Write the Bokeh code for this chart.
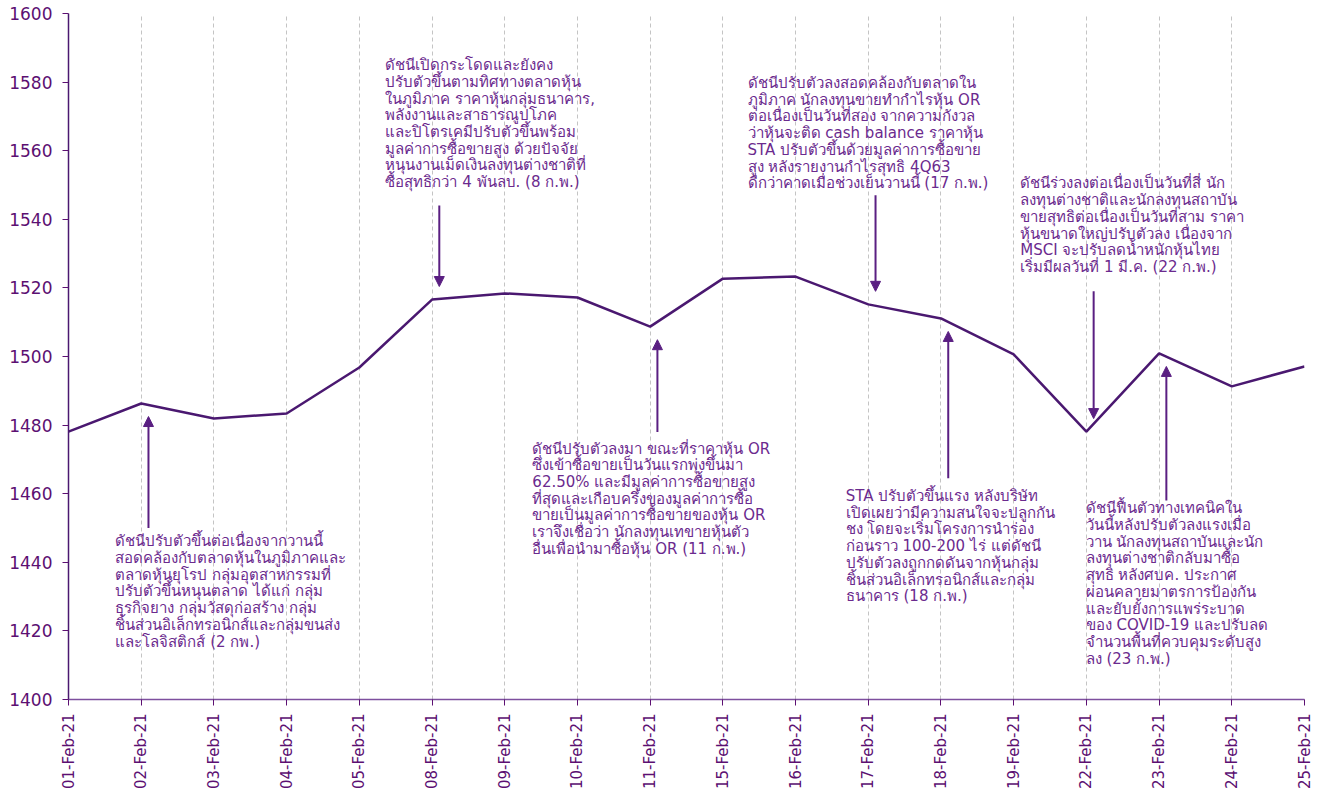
import math
from bokeh.plotting import figure
from bokeh.models import Range1d, FixedTicker, Arrow, NormalHead
from bokeh.embed import file_html
from bokeh.resources import INLINE
from bokeh.core.properties import value

# SET index closing levels, February 2021
dates = ["01-Feb-21", "02-Feb-21", "03-Feb-21", "04-Feb-21", "05-Feb-21",
         "08-Feb-21", "09-Feb-21", "10-Feb-21", "11-Feb-21", "15-Feb-21",
         "16-Feb-21", "17-Feb-21", "18-Feb-21", "19-Feb-21", "22-Feb-21",
         "23-Feb-21", "24-Feb-21", "25-Feb-21"]
index_values = [1478.1, 1486.3, 1481.9, 1483.4, 1496.8,
                1516.6, 1518.4, 1517.2, 1508.7, 1522.7,
                1523.3, 1515.2, 1511.1, 1500.6, 1478.1,
                1500.9, 1491.3, 1497.1]
y_ticks = [1400, 1420, 1440, 1460, 1480, 1500, 1520, 1540, 1560, 1580, 1600]

# Daily commentary attached to selected sessions
note_dates = ["02-Feb-21", "08-Feb-21", "11-Feb-21", "17-Feb-21",
              "18-Feb-21", "22-Feb-21", "23-Feb-21"]
note_texts = [
    "ดัชนีปรับตัวขึ้นต่อเนื่องจากวานนี้\nสอดคล้องกับตลาดหุ้นในภูมิภาคและ\nตลาดหุ้นยุโรป  กลุ่มอุตสาหกรรมที่\nปรับตัวขึ้นหนุนตลาด  ได้แก่ กลุ่ม\nธุรกิจยาง กลุ่มวัสดุก่อสร้าง กลุ่ม\nชิ้นส่วนอิเล็กทรอนิกส์และกลุ่มขนส่ง\nและโลจิสติกส์ (2 กพ.)",
    "ดัชนีเปิดกระโดดและยังคง\nปรับตัวขึ้นตามทิศทางตลาดหุ้น\nในภูมิภาค ราคาหุ้นกลุ่มธนาคาร,\nพลังงานและสาธารณูปโภค\nและปิโตรเคมีปรับตัวขึ้นพร้อม\nมูลค่าการซื้อขายสูง ด้วยปัจจัย\nหนุนงานเม็ดเงินลงทุนต่างชาติที่\nซื้อสุทธิกว่า 4 พันลบ. (8 ก.พ.)",
    "ดัชนีปรับตัวลงมา  ขณะที่ราคาหุ้น  OR\nซึ่งเข้าซื้อขายเป็นวันแรกพุ่งขึ้นมา\n62.50% และมีมูลค่าการซื้อขายสูง\nที่สุดและเกือบครึ่งของมูลค่าการซื้อ\nขายเป็นมูลค่าการซื้อขายของหุ้น  OR\nเราจึงเชื่อว่า  นักลงทุนเทขายหุ้นตัว\nอื่นเพื่อนำมาซื้อหุ้น  OR (11 ก.พ.)",
    "ดัชนีปรับตัวลงสอดคล้องกับตลาดใน\nภูมิภาค นักลงทุนขายทำกำไรหุ้น  OR\nต่อเนื่องเป็นวันที่สอง  จากความกังวล\nว่าหุ้นจะติด  cash balance ราคาหุ้น\nSTA ปรับตัวขึ้นด้วยมูลค่าการซื้อขาย\nสูง หลังรายงานกำไรสุทธิ  4Q63\nดีกว่าคาดเมื่อช่วงเย็นวานนี้  (17 ก.พ.)",
    "STA ปรับตัวขึ้นแรง  หลังบริษัท\nเปิดเผยว่ามีความสนใจจะปลูกกัน\nชง โดยจะเริ่มโครงการนำร่อง\nก่อนราว 100-200 ไร่   แต่ดัชนี\nปรับตัวลงถูกกดดันจากหุ้นกลุ่ม\nชิ้นส่วนอิเล็กทรอนิกส์และกลุ่ม\nธนาคาร (18 ก.พ.)",
    "ดัชนีร่วงลงต่อเนื่องเป็นวันที่สี่  นัก\nลงทุนต่างชาติและนักลงทุนสถาบัน\nขายสุทธิต่อเนื่องเป็นวันที่สาม  ราคา\nหุ้นขนาดใหญ่ปรับตัวลง  เนื่องจาก\nMSCI จะปรับลดน้ำหนักหุ้นไทย\nเริ่มมีผลวันที่ 1 มี.ค.   (22 ก.พ.)",
    "ดัชนีฟื้นตัวทางเทคนิคใน\nวันนี้หลังปรับตัวลงแรงเมื่อ\nวาน นักลงทุนสถาบันและนัก\nลงทุนต่างชาติกลับมาซื้อ\nสุทธิ หลังศบค. ประกาศ\nผ่อนคลายมาตรการป้องกัน\nและยับยั้งการแพร่ระบาด\nของ COVID-19  และปรับลด\nจำนวนพื้นที่ควบคุมระดับสูง\nลง (23 ก.พ.)",
]
# where each comment block sits (left edge, top) and where its arrow starts
note_text_x = [0.646, 4.36, 6.38, 9.34, 10.69, 13.09, 13.99]
note_text_top = [1448.8, 1587.6, 1475.8, 1582.4, 1462.0, 1553.1, 1458.4]
note_arrow_tail = [1450.0, 1544.0, 1478.0, 1547.0, 1464.5, 1519.0, 1458.0]

LINE = "#4a1870"
AXIS_TEXT = "#5c1072"
NOTE_TEXT = "#6b2a8e"
ARROW = "#5a1f82"
FONT = "DejaVu Sans"

x = list(range(len(dates)))

p = figure(width=1323, height=796,
           x_range=Range1d(0, len(dates) - 1), y_range=Range1d(1400, 1600),
           output_backend="svg", toolbar_location=None,
           min_border_left=68, min_border_right=19,
           min_border_top=13, min_border_bottom=97)
p.outline_line_color = None
p.background_fill_color = "white"
p.border_fill_color = "white"

# axes
p.xaxis.ticker = FixedTicker(ticks=x)
p.xaxis.major_label_overrides = {i: d for i, d in enumerate(dates)}
p.xaxis.major_label_orientation = math.pi / 2
p.xaxis.major_label_text_font = FONT
p.xaxis.major_label_text_font_size = "15px"
p.xaxis.major_label_text_color = AXIS_TEXT
p.xaxis.axis_line_color = "#7e4f9e"
p.xaxis.axis_line_width = 1.5
p.xaxis.major_tick_line_color = "#5c1072"
p.xaxis.major_tick_in = 0
p.xaxis.major_tick_out = 6
p.xaxis.minor_tick_line_color = None
p.xaxis.major_label_standoff = 8

p.yaxis.ticker = FixedTicker(ticks=y_ticks)
p.yaxis.major_label_text_font = FONT
p.yaxis.major_label_text_font_size = "17px"
p.yaxis.major_label_text_color = AXIS_TEXT
p.yaxis.axis_line_color = "#4a1870"
p.yaxis.axis_line_width = 1.5
p.yaxis.major_tick_line_color = "#5c1072"
p.yaxis.major_tick_in = 0
p.yaxis.major_tick_out = 6
p.yaxis.minor_tick_line_color = None
p.yaxis.major_label_standoff = 10

p.ygrid.grid_line_color = None
p.xgrid.grid_line_color = "#c4c4c4"
p.xgrid.grid_line_dash = "4 3"
p.xgrid.grid_line_width = 1

# index line
p.line(x, index_values, line_color=LINE, line_width=2.5)

# comment blocks and their arrows
gap = 3.8
for d, txt, tx, ty, tail in zip(note_dates, note_texts, note_text_x,
                                note_text_top, note_arrow_tail):
    i = dates.index(d)
    v = index_values[i]
    tip = v - gap if tail < v else v + gap
    p.add_layout(Arrow(end=NormalHead(size=10, fill_color=ARROW, line_color=ARROW),
                       x_start=i + 0.1, y_start=tail, x_end=i + 0.1, y_end=tip,
                       line_color=ARROW, line_width=2))
    p.text(x=[tx], y=[ty], text=[txt], text_font=value(FONT),
           text_font_size="15px", text_color=NOTE_TEXT,
           text_baseline="top", text_align="left", text_line_height=0.93)

open("out.html", "w").write(file_html(p, INLINE))
